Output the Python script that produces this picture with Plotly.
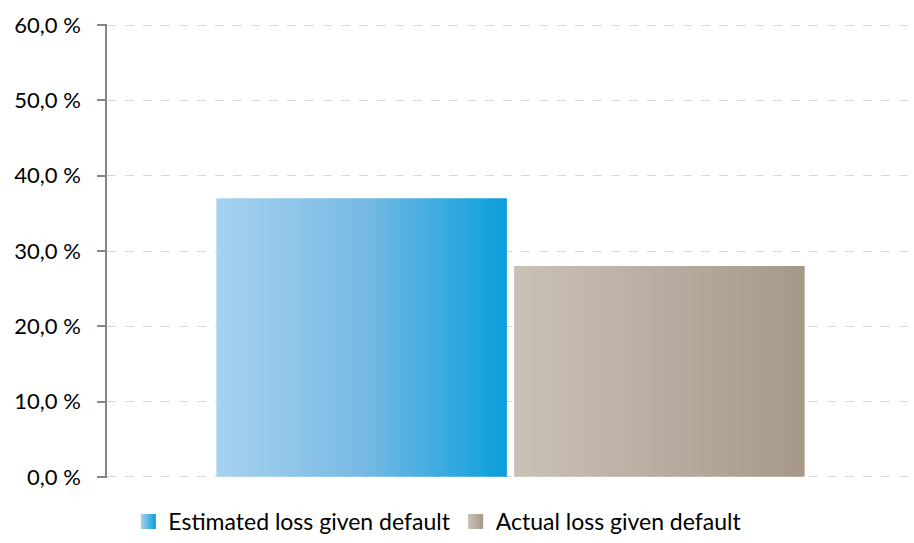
import plotly.graph_objects as go

series_names = ["Estimated loss given default", "Actual loss given default"]
series_values = [37.0, 28.0]
tick_values = [0, 10, 20, 30, 40, 50, 60]
tick_labels = ["0,0 %", "10,0 %", "20,0 %", "30,0 %", "40,0 %", "50,0 %", "60,0 %"]

gradients = [
    [[0, "#A7D2EE"], [0.5, "#78BAE4"], [1, "#0A9EDB"]],
    [[0, "#CAC1B7"], [1, "#A6998A"]],
]

bar_width = 0.36
gap = 0.009
n = len(series_values)
offsets = [(i - (n - 1) / 2) * (bar_width + gap) for i in range(n)]

fig = go.Figure()
for name, val, grad, off in zip(series_names, series_values, gradients, offsets):
    x0 = off - bar_width / 2
    x1 = off + bar_width / 2
    fig.add_trace(go.Scatter(
        x=[x0, x1], y=[val, val],
        mode="none", fill="tozeroy",
        fillgradient=dict(type="horizontal", colorscale=grad),
        name=name, hoverinfo="name+y", showlegend=False,
    ))
    # legend swatch: square marker with horizontal gradient
    fig.add_trace(go.Scatter(
        x=[None], y=[None], mode="markers", name=name,
        marker=dict(symbol="square", size=15, color=grad[0][1],
                    gradient=dict(type="horizontal", color=grad[-1][1]),
                    line=dict(width=0)),
    ))

fig.update_layout(
    width=914, height=543,
    margin=dict(l=107, r=0, t=24, b=64),
    paper_bgcolor="white", plot_bgcolor="white",
    font=dict(family="Lato, Open Sans, sans-serif", size=22, color="#000000"),
    showlegend=True,
    legend=dict(orientation="h", x=0.41, xanchor="center", y=-0.095, yanchor="middle",
                font=dict(size=23), traceorder="normal", itemwidth=30),
    xaxis=dict(range=[-0.5, 0.5], showgrid=False, zeroline=False, showline=False,
               showticklabels=False, ticks=""),
    yaxis=dict(range=[-0.16, 60.16], tickvals=tick_values, ticktext=tick_labels,
               showgrid=True, gridcolor="#D9D9D9", griddash="dash", gridwidth=1,
               zeroline=False, showline=True, linecolor="#868686", linewidth=1.5,
               ticks="outside", ticklen=8, tickcolor="#868686", tickwidth=1.5,
               ticklabelstandoff=12),
)

fig.write_html("out.html", config={"displayModeBar": False},
               post_script="document.body.style.margin='0';document.body.style.overflow='hidden';")
